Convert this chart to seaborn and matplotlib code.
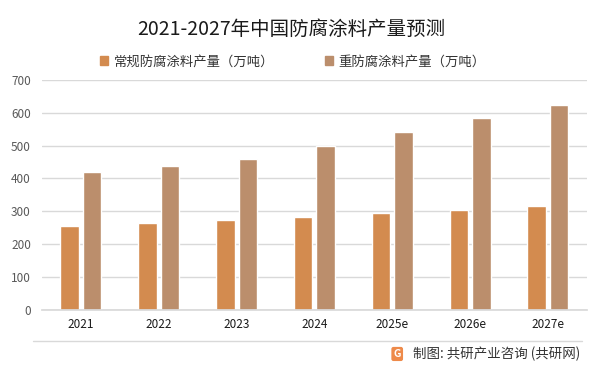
import pandas as pd
import seaborn as sns
import matplotlib.pyplot as plt
from matplotlib.patches import Patch

# data
years = ['2021', '2022', '2023', '2024', '2025e', '2026e', '2027e']
normal = [256, 265, 274, 283, 295, 304, 316]
heavy = [420, 438, 460, 499, 542, 584, 624]
series_names = ['常规防腐涂料产量（万吨）', '重防腐涂料产量（万吨）']
colors = ['#D38B4F', '#BB8E6C']

df = pd.DataFrame({
    'year': years * 2,
    'value': normal + heavy,
    'series': [series_names[0]] * len(years) + [series_names[1]] * len(years),
})

sns.set_theme(style='white')
plt.rcParams['font.family'] = ['Noto Sans CJK SC', 'DejaVu Sans']

fig = plt.figure(figsize=(6, 3.73), dpi=100)
ax = fig.add_axes([0.07, 0.169, 0.908, 0.617])

sns.barplot(data=df, x='year', y='value', hue='series', palette=colors,
            width=0.58, gap=0.18, saturation=1, legend=False, ax=ax)

ax.set_ylim(0, 700)
ax.set_yticks(range(0, 701, 100))
ax.set_xlim(-0.5, len(years) - 0.5)
ax.yaxis.grid(True, color='#D9D9D9', linewidth=1)
ax.set_axisbelow(True)
for s in ['top', 'right', 'left']:
    ax.spines[s].set_visible(False)
ax.spines['bottom'].set_color('#D9D9D9')
ax.set_xlabel('')
ax.set_ylabel('')
ax.tick_params(axis='y', labelsize=8.5, colors='#595959', length=0, pad=8)
ax.tick_params(axis='x', labelsize=8.5, colors='#1a1a1a', length=0, pad=6)

fig.text(0.486, 0.92, '2021-2027年中国防腐涂料产量预测', ha='center', va='center',
         fontsize=14, color='#1a1a1a')

handles = [Patch(color=c) for c in colors]
fig.legend(handles, series_names, loc='center', bbox_to_anchor=(0.4875, 0.836), ncol=2,
           frameon=False, fontsize=9.6, handlelength=0.6, handleheight=0.6,
           handletextpad=0.4, columnspacing=3.8, labelcolor='#333333')

# footer
fig.add_artist(plt.Line2D([0.055, 0.97], [0.086, 0.086], color='#D9D9D9', linewidth=1,
                          transform=fig.transFigure))
fig.text(0.662, 0.051, 'G', ha='center', va='center', fontsize=7.5, color='white',
         fontweight='bold',
         bbox=dict(boxstyle='round,pad=0.2', facecolor='#EE8A4A', edgecolor='none'))
fig.text(0.967, 0.051, '制图: 共研产业咨询 (共研网)', ha='right', va='center',
         fontsize=9.7, color='#333333')

fig.savefig('out.png', dpi=100)
